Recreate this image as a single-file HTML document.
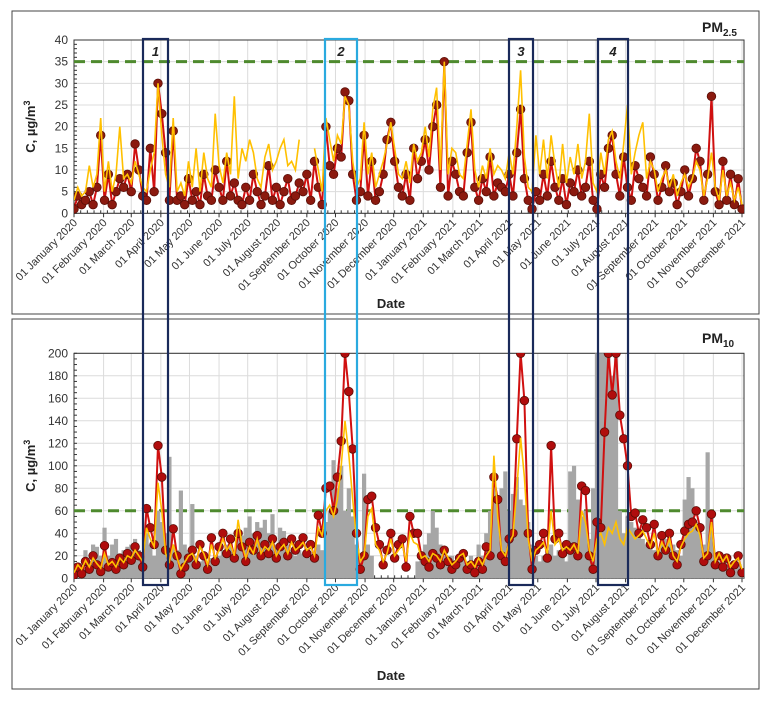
<!DOCTYPE html>
<html><head><meta charset="utf-8">
<style>
html,body{margin:0;padding:0;background:#fff;}
svg{display:block;font-family:"Liberation Sans",Arial,sans-serif;}
</style></head>
<body>
<svg id="chart" width="773" height="705" viewBox="0 0 773 705">
<defs>
<clipPath id="clipTop"><rect x="74" y="40" width="670" height="174"/></clipPath>
<clipPath id="clipBot"><rect x="74" y="353" width="670" height="226"/></clipPath>
</defs>
<rect x="12" y="11" width="747" height="303" fill="#fff" stroke="#444" stroke-width="1"/>
<rect x="12" y="319" width="747" height="370" fill="#fff" stroke="#444" stroke-width="1"/>
<g id="gTop"></g>
<g id="gBot"></g>
<g id="gBoxes"></g>
</svg>
<script>
const months = ["January","February","March","April","May","June","July","August","September","October","November","December"];
const pm25Ticks = [0,5,10,15,20,25,30,35,40];
const pm10Ticks = [0,20,40,60,80,100,120,140,160,180,200];
const pm25Limit = 35;
const pm10Limit = 60;
const pm25Red = [1,4,2,3,5,2,6,18,3,9, 2,5,8,6,9,5,16,10,4,3, 15,5,30,23,14,3,19,3,4,2, 8,3,5,2,9,4,3,10,6,3, 12,4,7,3,2,6,3,9,5,2, 4,11,3,6,2,5,8,3,4,7, 5,9,3,12,6,2,20,11,9,15, 13,28,26,9,3,5,18,4,12,3, 5,9,17,21,12,6,4,9,3,15, 8,12,17,10,20,25,6,35,4,12, 9,5,4,14,21,6,3,8,5,13, 4,7,6,5,9,4,14,24,8,3, 1,5,3,9,4,12,6,3,8,2, 7,5,10,4,6,12,3,1,9,6, 15,18,9,4,13,6,3,11,8,6, 4,13,9,3,6,11,5,7,2,5, 10,4,8,15,12,3,9,27,5,2, 12,3,9,2,8,1];
const pm25Yellow = [3,6,4,5,11,6,9,22,5,12, 5,9,20,8,9,7,12,9,6,5, 10,14,30,18,9,6,22,5,7,4, 12,6,15,5,14,8,6,23,11,7, 14,9,27,8,15,12,17,14,8,6, 13,16,10,12,15,17,11,12,10,17, null,null,null,15,10,5,22,17,12,18, 16,27,25,12,6,8,21,9,14,6, 9,12,16,21,15,9,8,12,7,16, 12,14,20,13,24,29,10,35,9,15, 14,9,8,16,24,10,6,11,8,15, 9,11,10,8,14,9,20,33,13,6, 5,18,9,17,8,18,11,6,16,7, 13,9,16,8,12,23,7,5,14,9, 17,19,12,8,16,25,9,14,18,21, 8,12,10,5,8,10,6,9,4,7, 9,6,8,12,10,4,8,14,6,3, 10,4,7,3,6,2];
const pm10Red = [3,10,4,15,8,20,12,6,29,10, 14,8,18,12,22,16,28,20,10,62, 45,30,118,90,25,12,44,20,4,10, 18,25,12,30,20,8,36,15,28,40, 22,35,18,40,28,15,32,25,38,20, 30,22,35,18,28,32,20,35,25,30, 36,22,30,18,56,40,80,82,60,90, 122,200,166,115,40,8,20,70,73,45, 30,12,25,40,18,30,35,10,55,40, 40,20,15,10,22,18,12,25,15,8, 12,18,22,8,12,5,15,8,28,20, 90,70,20,15,35,40,124,200,158,40, 8,25,30,40,18,118,35,40,22,30, 25,28,20,82,78,20,8,50,45,130, 200,163,200,145,124,100,55,58,40,52, 45,30,48,20,38,25,40,20,12,30, 42,48,50,60,45,15,20,57,12,20, 10,18,5,12,20,5];
const pm10Yellow = [5,12,8,16,10,18,13,9,22,12, 15,10,18,14,20,18,25,20,15,45, 35,28,85,60,22,15,30,18,8,14, 20,22,15,28,22,12,30,18,25,35, 25,30,20,52,30,18,28,22,35,22, 28,25,32,20,26,30,22,32,25,28, 32,25,28,20,45,38,60,65,55,70, 100,140,110,70,35,15,20,55,62,30, 25,15,22,35,20,25,30,15,40,32, 30,18,20,15,22,20,15,25,18,12, 15,20,22,12,15,10,18,12,20,25, 109,55,25,20,32,38,80,125,90,35, 15,25,28,32,22,60,30,35,25,28, 25,30,22,60,50,25,15,35,40,30, 45,40,50,35,30,45,40,35,38,42, 35,28,40,22,32,25,35,20,15,28, 35,40,42,48,38,18,22,50,15,22, 15,20,10,15,18,8];
const pm10Gray = [0,0,10,25,15,30,28,20,45,20, 30,35,22,25,28,30,35,25,20,40, 30,20,60,50,40,108,30,25,78,30, 25,66,20,15,22,10,18,15,20,25, 30,35,25,40,38,45,55,40,50,45, 52,40,57,30,45,42,30,25,20,25, 22,20,18,15,30,25,50,60,105,80, 100,60,80,55,30,20,93,30,20,0, 0,0,0,0,0,0,0,0,0,0, 15,20,30,40,60,45,30,25,20,20, 15,20,25,15,20,10,30,20,40,60, 85,70,80,95,60,75,90,70,65,50, 30,20,15,20,25,30,20,25,20,15, 95,100,70,55,60,35,80,200,200,200, 200,180,200,60,40,55,50,45,40,35, 30,35,25,20,30,35,40,30,25,20, 70,90,80,50,40,30,112,60,20,15, 10,15,10,8,12,5];

const NS="http://www.w3.org/2000/svg";
function mk(tag, attrs, parent){const e=document.createElementNS(NS,tag);for(const k in attrs)e.setAttribute(k,attrs[k]);parent.appendChild(e);return e;}
const X0=74, X1=742, DAYS=700;
function xDay(d){return X0+d*(X1-X0)/DAYS;}
function xIdx(i,n){return xDay(i*DAYS/(n-1));}
const monthDays=[];{let d=0;const ml=[31,29,31,30,31,30,31,31,30,31,30,31,31,28,31,30,31,30,31,31,30,31,30,31];for(let m=0;m<24;m++){monthDays.push(d);d+=ml[m];}}

function panel(g, y0, y1, vmax, ticks, minorStep, limit, clipId, title, sub, titleY, dateY){
  const yv=v=>y1-v*(y1-y0)/vmax;
  ticks.forEach(t=>{
    const l=mk('line',{x1:X0,x2:744,y1:yv(t),y2:yv(t),stroke:'#dcdcdc','stroke-width':1},g);
    
    
  });
  monthDays.forEach(d=>{
    const l=mk('line',{x1:xDay(d),x2:xDay(d),y1:y0,y2:y1,stroke:'#dcdcdc','stroke-width':1},g);
    
    
  });
  mk('rect',{x:X0,y:y0,width:744-X0,height:y1-y0,fill:'none',stroke:'#333','stroke-width':1},g);
  for(let v=0;v<=vmax;v+=minorStep){mk('line',{x1:X0,x2:X0+3,y1:yv(v),y2:yv(v),stroke:'#333'},g);}
  ticks.forEach(t=>{
    const tx=mk('text',{x:X0-6,y:yv(t)+4,'text-anchor':'end','font-size':12,fill:'#333'},g);
    tx.textContent=t;
    
    
  });
  for(let w=0;w<=DAYS;w+=7){mk('line',{x1:xDay(w),x2:xDay(w),y1:y1,y2:y1-3,stroke:'#333'},g);}
  monthDays.forEach((d,m)=>{
    mk('line',{x1:xDay(d),x2:xDay(d),y1:y1,y2:y1+4,stroke:'#333'},g);
    const x=xDay(d)+4, y=y1+10;
    const tx=mk('text',{x:x,y:y,'text-anchor':'end','font-size':11,fill:'#333',transform:`rotate(-45 ${x} ${y})`},g);
    tx.textContent='01 '+months[m%12]+' '+(m<12?'2020':'2021');
    
    
  });
  const yt=mk('text',{x:0,y:0,'font-size':13,'font-weight':'bold',fill:'#222','text-anchor':'middle',transform:`translate(35 ${(y0+y1)/2}) rotate(-90)`},g);
  yt.innerHTML='C, µg/m<tspan font-size="9" dy="-5">3</tspan>';
  
  
  const dt=mk('text',{x:391,y:dateY,'font-size':13,'font-weight':'bold',fill:'#222','text-anchor':'middle'},g);
  dt.textContent='Date';
  
  
  const tt=mk('text',{x:702,y:titleY,'font-size':14,'font-weight':'bold',fill:'#222'},g);
  tt.innerHTML='PM<tspan font-size="10" dy="4">'+sub+'</tspan>';
  
  
  const lim=mk('line',{x1:X0,x2:744,y1:yv(limit),y2:yv(limit),stroke:'#4e8a2e','stroke-width':3,'stroke-dasharray':'11 6'},g);
  
  
  const cg=mk('g',{'clip-path':`url(#${clipId})`},g);
  return {yv,cg};
}
function linePath(arr, yv){
  let d='',pen=false;
  arr.forEach((v,i)=>{ if(v===null){pen=false;return;} d+=(pen?'L':'M')+xIdx(i,arr.length).toFixed(1)+' '+yv(v).toFixed(1)+' '; pen=true;});
  return d;
}
function series(cg, yv, red, yellow, gray, mfill){
  if(gray){
    gray.forEach((v,i)=>{
      if(!v) return;
      const b=mk('rect',{x:xIdx(i,gray.length)-2.1,y:yv(v),width:4.2,height:yv(0)-yv(v),fill:'#a6a6a6'},cg);
      
      
    });
  }
  const rl=mk('path',{d:linePath(red,yv),fill:'none',stroke:'#d01010','stroke-width':2},cg);
  
  
  red.forEach((v,i)=>{
    const c=mk('circle',{cx:xIdx(i,red.length),cy:yv(v),r:4.3,fill:mfill,stroke:'#5a0d06','stroke-width':0.8},cg);
    
    
  });
  const yl=mk('path',{d:linePath(yellow,yv),fill:'none',stroke:'#ffc000','stroke-width':1.6},cg);
  
  
}
const topP=panel(document.getElementById('gTop'),40,213.3,40,pm25Ticks,1,pm25Limit,'clipTop','PM','2.5',32,308);
series(topP.cg, topP.yv, pm25Red, pm25Yellow, null, '#8b1a0f');
const botP=panel(document.getElementById('gBot'),353.3,578.3,200,pm10Ticks,5,pm10Limit,'clipBot','PM','10',343,680);
series(botP.cg, botP.yv, pm10Red, pm10Yellow, pm10Gray, '#b00d0d');

const boxes=[[143,168,'#1a2a5a','1'],[325,357,'#2aaadf','2'],[509,533,'#1a2a5a','3'],[598,628,'#1a2a5a','4']];
const gb=document.getElementById('gBoxes');
boxes.forEach(b=>{
  const r=mk('rect',{x:b[0],y:39,width:b[1]-b[0],height:546,fill:'none',stroke:b[2],'stroke-width':2.2},gb);
  
  
  const t=mk('text',{x:(b[0]+b[1])/2,y:56,'text-anchor':'middle','font-size':13,'font-weight':'bold','font-style':'italic',fill:'#222'},gb);
  t.textContent=b[3];
  
  
});
</script>
</body></html>
